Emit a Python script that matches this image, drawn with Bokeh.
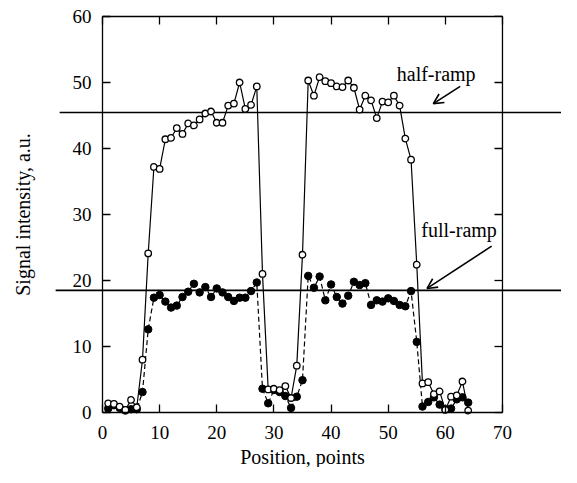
import math
from bokeh.plotting import figure
from bokeh.models import (LinearAxis, FixedTicker, CustomJSTickFormatter, Label,
                          Arrow, OpenHead, Range1d)
from bokeh.embed import file_html
from bokeh.resources import INLINE

positions = list(range(1, 65))
half_ramp = [1.4, 1.3, 0.9, 0.4, 1.9, 0.8, 8.0, 24.1, 37.2, 36.9,
             41.4, 41.6, 43.1, 42.2, 43.8, 43.5, 44.4, 45.3, 45.6, 43.9,
             43.9, 46.5, 46.8, 50.0, 46.0, 46.6, 49.4, 21.0, 3.5, 3.6,
             3.4, 4.0, 2.2, 7.1, 23.9, 50.3, 48.0, 50.8, 50.2, 49.9,
             49.4, 49.3, 50.3, 49.2, 45.9, 48.0, 47.3, 44.6, 47.1, 47.0,
             48.0, 46.5, 41.5, 38.3, 22.4, 4.4, 4.6, 2.8, 3.2, 0.4,
             2.4, 2.6, 4.7, 0.3]
full_ramp = [0.6, 1.1, 0.7, 0.3, 0.5, 0.5, 3.1, 12.6, 17.4, 17.8,
             16.8, 15.9, 16.2, 17.5, 18.3, 19.5, 18.2, 19.0, 17.5, 18.8,
             18.2, 17.5, 16.9, 17.4, 17.4, 18.4, 19.7, 3.6, 1.4, 3.4,
             3.1, 2.5, 0.7, 2.4, 4.9, 20.7, 18.9, 20.6, 17.0, 19.4,
             17.5, 16.5, 17.7, 19.8, 19.3, 19.6, 16.3, 17.0, 16.8, 17.3,
             16.9, 16.3, 16.1, 18.4, 10.7, 0.9, 1.6, 2.3, 1.2, 0.5,
             0.6, 2.0, 2.3, 1.5]
x_ticks = [0, 10, 20, 30, 40, 50, 60, 70]
y_ticks = [0, 10, 20, 30, 40, 50, 60]
x_lim = (0, 70)
y_lim = (0, 60)
levels = [45.45, 18.5]
level_starts = [-7.5, -8.2]
level_names = ["half-ramp", "full-ramp"]

FONT = "Liberation Serif"

# The frame fills the whole canvas; the axes are pinned at the data box edges,
# so the level lines can run past the box on both sides.
p = figure(width=561, height=467, x_range=Range1d(-17.85, 80.33),
           y_range=Range1d(-8.33, 62.42),
           output_backend="svg", toolbar_location=None,
           min_border_left=0, min_border_right=0, min_border_top=0,
           min_border_bottom=0)
p.grid.visible = False
p.outline_line_color = None
p.border_fill_color = "white"
p.background_fill_color = "white"


def style_axis(ax, ticks, bounds):
    ax.ticker = FixedTicker(ticks=ticks)
    ax.bounds = bounds
    ax.major_tick_in = 8
    ax.major_tick_out = 0
    ax.minor_tick_line_color = None
    ax.axis_line_color = "black"
    ax.axis_line_width = 1.3
    ax.major_tick_line_width = 1.3
    ax.major_tick_line_color = "black"
    ax.major_label_text_font = FONT
    ax.major_label_text_font_size = "19px"
    ax.major_label_text_color = "black"
    ax.axis_label_text_font = FONT
    ax.axis_label_text_font_size = "20px"
    ax.axis_label_text_font_style = "normal"
    ax.axis_label_text_color = "black"


xa = p.xaxis[0]
ya = p.yaxis[0]
style_axis(xa, x_ticks, x_lim)
style_axis(ya, y_ticks, y_lim)
xa.fixed_location = y_lim[0]
ya.fixed_location = x_lim[0]
xa.axis_label = "Position, points"
ya.axis_label = "Signal intensity, a.u."
xa.major_label_standoff = 13
ya.major_label_standoff = 11
xa.axis_label_standoff = 4
ya.axis_label_standoff = 36

blank = CustomJSTickFormatter(code="return ''")
top = LinearAxis(formatter=blank)
style_axis(top, x_ticks, x_lim)
top.fixed_location = y_lim[1]
top.major_label_text_font_size = "0px"
top.major_label_standoff = 0
p.add_layout(top, "above")

# right-hand side of the box (x = 70) with inward ticks
p.segment(x0=[x_lim[1]], y0=[y_lim[0]], x1=[x_lim[1]], y1=[y_lim[1]],
          line_color="black", line_width=1.3)
p.ray(x=[x_lim[1]] * len(y_ticks), y=y_ticks, length=8, length_units="screen",
      angle=math.pi, line_color="black", line_width=1.3)

# reference levels running past the box
p.segment(x0=level_starts, y0=levels, x1=[85, 85], y1=levels,
          line_color="black", line_width=1.6)

# series
p.line(positions, full_ramp, line_color="black", line_width=1.2, line_dash="5 3")
p.line(positions, half_ramp, line_color="black", line_width=1.2)
p.scatter(positions, full_ramp, marker="circle", size=7.5, fill_color="black",
          line_color="black")
p.scatter(positions, half_ramp, marker="circle", size=6.5, fill_color="white",
          line_color="black", line_width=1.3)

# annotations
p.add_layout(Label(x=51.5, y=51.3, text=level_names[0], text_font=FONT,
                   text_font_size="20px", text_baseline="alphabetic", text_color="black"))
p.add_layout(Label(x=55.8, y=27.6, text=level_names[1], text_font=FONT,
                   text_font_size="20px", text_baseline="alphabetic", text_color="black"))
p.add_layout(Arrow(end=OpenHead(size=10, line_width=1.6, line_color="black"),
                   x_start=62.6, y_start=49.4, x_end=57.9, y_end=46.8,
                   line_color="black", line_width=1.6))
p.add_layout(Arrow(end=OpenHead(size=10, line_width=1.6, line_color="black"),
                   x_start=68.1, y_start=25.2, x_end=56.8, y_end=18.8,
                   line_color="black", line_width=1.6))

open("out.html", "w").write(file_html(p, INLINE))
